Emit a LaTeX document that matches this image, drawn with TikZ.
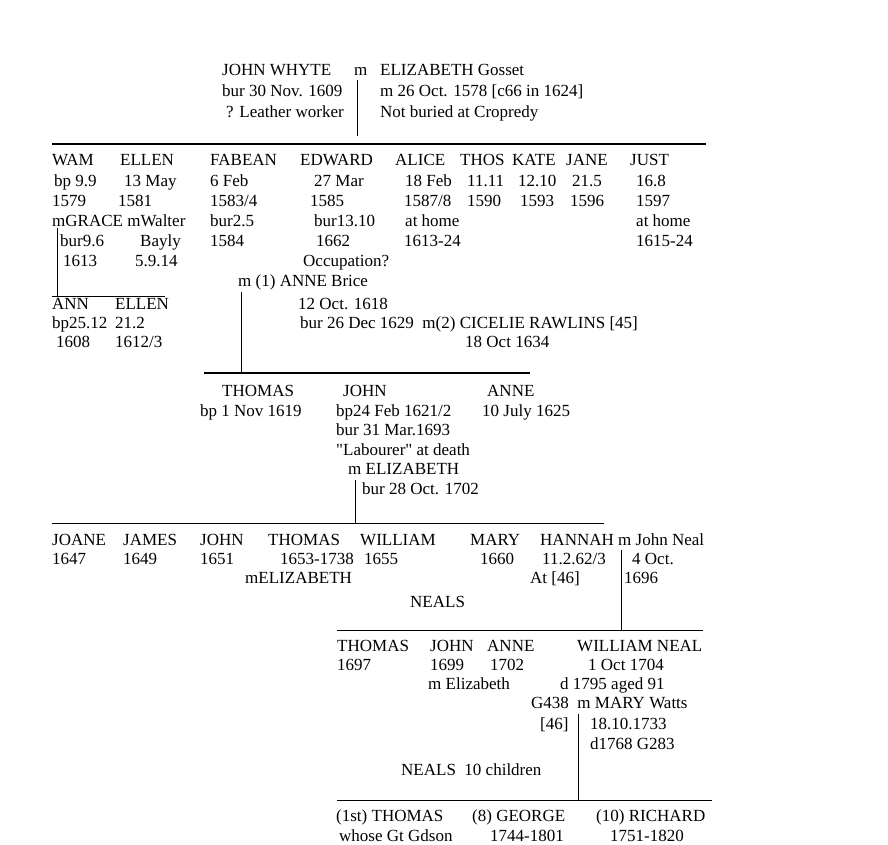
\documentclass[tikz,border=0pt]{standalone}
\usepackage{fontspec}
\setmainfont{Liberation Serif}
\begin{document}
\begin{tikzpicture}[x=1pt,y=-1pt,
  t/.style={anchor=base west,inner sep=0pt,font=\fontsize{17}{19}\selectfont},
  thinline/.style={line width=0.8pt},
  thickline/.style={line width=2.4pt}]
\useasboundingbox (0,0) rectangle (888,845);
\fill[white] (0,0) rectangle (888,845);
% row baselines
\def\ra{76}\def\rb{97}\def\rc{118}
\def\rd{166}\def\re{186}\def\rf{206}\def\rg{226}\def\rh{246}\def\ri{266}\def\rj{286}
\def\rk{309}\def\rl{328}\def\rm{347}
\def\rn{396}\def\ro{416}\def\rp{435}\def\rq{455}\def\rr{474}\def\rs{494}
\def\rt{545}\def\ru{564}\def\rv{583}\def\rw{607}
\def\rx{651}\def\ry{670}\def\rz{689}\def\rA{708}\def\rB{729}\def\rC{749}\def\rD{775}
\def\rE{821}\def\rF{841}
% top couple
\node[t] (jw) at (222,\ra) {JOHN WHYTE};
\node[t] (jm) at (354,\ra) {m};
\node[t] (eg) at (380,\ra) {ELIZABETH Gosset};
\node[t] (jwb) at (222,\rb) {bur 30 Nov. 1609};
\node[t] (egm) at (380,\rb) {m 26 Oct. 1578 [c66 in 1624]};
\node[t] (jwl) at (226,\rc) {? Leather worker};
\node[t] (egn) at (380,\rc) {Not buried at Cropredy};
\coordinate (v1a) at (357,80);
\coordinate (v1b) at (357,136);
\draw[thinline] (v1a) -- (v1b);
\coordinate (h1a) at (52,144);
\coordinate (h1b) at (706,144);
\draw[thickline] (h1a) -- (h1b);
% children
\node[t] (wam) at (52,\rd) {WAM};
\node[t] (ellen) at (120,\rd) {ELLEN};
\node[t] (fab) at (210,\rd) {FABEAN};
\node[t] (edw) at (300,\rd) {EDWARD};
\node[t] (ali) at (395,\rd) {ALICE};
\node[t] (tho) at (460,\rd) {THOS};
\node[t] (kat) at (512,\rd) {KATE};
\node[t] (jan) at (566,\rd) {JANE};
\node[t] (jus) at (630,\rd) {JUST};
\node[t] at (54,\re) {bp 9.9};
\node[t] at (124,\re) {13 May};
\node[t] at (210,\re) {6 Feb};
\node[t] at (314,\re) {27 Mar};
\node[t] at (405,\re) {18 Feb};
\node[t] at (467,\re) {11.11};
\node[t] at (518,\re) {12.10};
\node[t] at (572,\re) {21.5};
\node[t] at (636,\re) {16.8};
\node[t] at (52,\rf) {1579};
\node[t] at (118,\rf) {1581};
\node[t] at (210,\rf) {1583/4};
\node[t] at (310,\rf) {1585};
\node[t] at (404,\rf) {1587/8};
\node[t] at (467,\rf) {1590};
\node[t] at (520,\rf) {1593};
\node[t] at (570,\rf) {1596};
\node[t] at (636,\rf) {1597};
\node[t] (wamm) at (52,\rg) {mGRACE mWalter};
\node[t] at (210,\rg) {bur2.5};
\node[t] at (314,\rg) {bur13.10};
\node[t] at (405,\rg) {at home};
\node[t] at (636,\rg) {at home};
\node[t] at (60,\rh) {bur9.6};
\node[t] at (140,\rh) {Bayly};
\node[t] at (210,\rh) {1584};
\node[t] at (316,\rh) {1662};
\node[t] at (404,\rh) {1613-24};
\node[t] at (636,\rh) {1615-24};
\node[t] at (63,\ri) {1613};
\node[t] at (135,\ri) {5.9.14};
\node[t] at (303,\ri) {Occupation?};
\node[t] (anne1) at (238,\rj) {m (1) ANNE Brice};
\coordinate (v2a) at (57,228);
\coordinate (v2b) at (57,296);
\draw[thinline] (v2a) -- (v2b);
\coordinate (h2a) at (52,296);
\coordinate (h2b) at (165,296);
\draw[thinline] (h2a) -- (h2b);
\node[t] at (52,\rk) {ANN};
\node[t] at (115,\rk) {ELLEN};
\node[t] at (298,\rk) {12 Oct. 1618};
\node[t] at (52,\rl) {bp25.12};
\node[t] at (115,\rl) {21.2};
\node[t] at (300,\rl) {bur 26 Dec 1629\ \ m(2) CICELIE RAWLINS [45]};
\node[t] at (56,\rm) {1608};
\node[t] at (115,\rm) {1612/3};
\node[t] at (465,\rm) {18 Oct 1634};
\coordinate (v3a) at (241,292);
\coordinate (v3b) at (241,373);
\draw[thinline] (v3a) -- (v3b);
\coordinate (h3a) at (204,373);
\coordinate (h3b) at (530,373);
\draw[thickline] (h3a) -- (h3b);
% third generation
\node[t] at (222,\rn) {THOMAS};
\node[t] at (343,\rn) {JOHN};
\node[t] at (487,\rn) {ANNE};
\node[t] at (200,\ro) {bp 1 Nov 1619};
\node[t] at (336,\ro) {bp24 Feb 1621/2};
\node[t] at (482,\ro) {10 July 1625};
\node[t] at (336,\rp) {bur 31 Mar.1693};
\node[t] at (336,\rq) {\textquotedbl Labourer\textquotedbl{} at death};
\node[t] at (348,\rr) {m ELIZABETH};
\node[t] at (362,\rs) {bur 28 Oct. 1702};
\coordinate (v4a) at (355,480);
\coordinate (v4b) at (355,523);
\draw[thinline] (v4a) -- (v4b);
\coordinate (h4a) at (52,523);
\coordinate (h4b) at (604,523);
\draw[thinline] (h4a) -- (h4b);
% fourth generation
\node[t] at (52,\rt) {JOANE};
\node[t] at (123,\rt) {JAMES};
\node[t] at (200,\rt) {JOHN};
\node[t] at (268,\rt) {THOMAS};
\node[t] at (360,\rt) {WILLIAM};
\node[t] at (470,\rt) {MARY};
\node[t] at (540,\rt) {HANNAH};
\node[t] at (618,\rt) {m John Neal};
\node[t] at (52,\ru) {1647};
\node[t] at (123,\ru) {1649};
\node[t] at (200,\ru) {1651};
\node[t] at (280,\ru) {1653-1738};
\node[t] at (364,\ru) {1655};
\node[t] at (480,\ru) {1660};
\node[t] at (542,\ru) {11.2.62/3};
\node[t] at (632,\ru) {4 Oct.};
\node[t] at (624,\rv) {1696};
\node[t] at (245,\rv) {mELIZABETH};
\node[t] at (530,\rv) {At [46]};
\node[t] at (410,\rw) {NEALS};
\coordinate (v5a) at (621,550);
\coordinate (v5b) at (621,630);
\draw[thinline] (v5a) -- (v5b);
\coordinate (h5a) at (337,630);
\coordinate (h5b) at (703,630);
\draw[thinline] (h5a) -- (h5b);
% Neals
\node[t] at (337,\rx) {THOMAS};
\node[t] at (430,\rx) {JOHN};
\node[t] at (487,\rx) {ANNE};
\node[t] at (577,\rx) {WILLIAM NEAL};
\node[t] at (337,\ry) {1697};
\node[t] at (430,\ry) {1699};
\node[t] at (490,\ry) {1702};
\node[t] at (588,\ry) {1 Oct 1704};
\node[t] at (428,\rz) {m Elizabeth};
\node[t] at (560,\rz) {d 1795 aged 91};
\node[t] at (531,\rA) {G438\ \ m MARY Watts};
\node[t] at (540,\rB) {[46]};
\node[t] at (590,\rB) {18.10.1733};
\node[t] at (590,\rC) {d1768 G283};
\node[t] at (401,\rD) {NEALS\ \ 10 children};
\coordinate (v6a) at (578,714);
\coordinate (v6b) at (578,800);
\draw[thinline] (v6a) -- (v6b);
\coordinate (h6a) at (337,800);
\coordinate (h6b) at (712,800);
\draw[thinline] (h6a) -- (h6b);
\node[t] at (336,\rE) {(1st) THOMAS};
\node[t] at (472,\rE) {(8) GEORGE};
\node[t] at (596,\rE) {(10) RICHARD};
\node[t] at (339,\rF) {whose Gt Gdson};
\node[t] at (490,\rF) {1744-1801};
\node[t] at (610,\rF) {1751-1820};
\end{tikzpicture}
\end{document}
